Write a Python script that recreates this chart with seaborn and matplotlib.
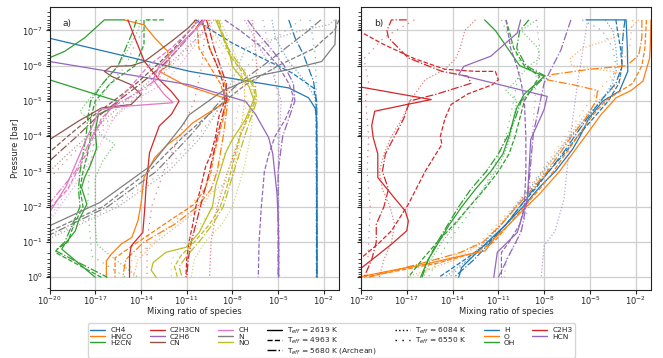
import numpy as np
import matplotlib
matplotlib.use("Agg")
import matplotlib.pyplot as plt
import matplotlib.transforms as mtransforms
from matplotlib.lines import Line2D
from matplotlib.ticker import FixedLocator, NullLocator, NullFormatter
import seaborn as sns

sns.set_theme(style="ticks")
plt.rcParams["font.family"] = ["DejaVu Sans"]
plt.rcParams["font.size"] = 6

# Stellar effective temperatures and the line style used for each one
TEFF_LABELS = ["T$_{eff}$ = 2619 K", "T$_{eff}$ = 4963 K",
               "T$_{eff}$ = 5680 K (Archean)", "T$_{eff}$ = 6084 K",
               "T$_{eff}$ = 6550 K"]
STYLES = ["-", "--", "-.", ":", (0, (1, 4))]
ALPHAS = [1.0, 1.0, 1.0, 0.6, 0.6]

# Profiles: one per Teff (order as TEFF_LABELS); points are
# (log10 pressure [bar], log10 mixing ratio)

# ---- panel a) ----
ch4 = [
    [(-7.3, -25.0), (-6.78, -20.0), (-6.3, -15.3), (-5.84, -10.8), (-5.6, -7.5), (-5.37, -4.3),
     (-5.09, -3.0), (-4.8, -2.57), (-4.5, -2.47), (-3.0, -2.45), (0.0, -2.45)],
    [(-7.3, -10.4), (-7.11, -9.75), (-6.64, -8.0), (-6.17, -5.83), (-5.8, -4.1), (-5.37, -2.68),
     (-5.0, -2.5), (0.0, -2.45)],
    [(-7.3, -4.3), (-6.8, -3.9), (-6.31, -3.33), (-5.56, -2.68), (-4.96, -2.46), (0.0, -2.45)],
    [(-7.3, -5.4), (-6.79, -5.18), (-6.12, -4.31), (-5.56, -3.22), (-5.09, -2.57), (-4.5, -2.5), (0.0, -2.48)],
    [(-7.3, -2.9), (-6.3, -2.56), (-5.5, -2.5), (0.0, -2.5)],
]
hnco = [
    [(-7.3, -15.1), (-7.16, -13.8), (-6.79, -13.1), (-6.41, -12.25), (-6.03, -12.1), (-5.84, -12.8),
     (-5.46, -11.16), (-5.04, -8.2), (-4.38, -10.6), (-4.0, -11.5), (-3.77, -12.25), (-3.39, -13.1),
     (-2.83, -13.8), (-2.07, -14.0), (-1.6, -14.2), (-1.13, -14.6), (-0.94, -15.3), (-0.66, -15.94),
     (-0.47, -16.27), (0.0, -16.27)],
    [(-7.3, -10.5), (-7.0, -10.3), (-6.5, -10.2), (-6.0, -9.5), (-5.5, -8.8), (-5.0, -8.4), (-4.5, -8.6),
     (-4.0, -8.9), (-3.5, -9.2), (-3.0, -9.4), (-2.5, -9.8), (-2.07, -10.5), (-1.7, -11.8), (-1.32, -13.1),
     (-0.94, -14.4), (-0.55, -15.7), (0.0, -15.7)],
    [(-7.3, -10.0), (-7.0, -9.8), (-6.5, -9.5), (-6.0, -9.0), (-5.5, -8.5), (-5.0, -8.3), (-4.0, -8.6),
     (-3.0, -9.0), (-2.5, -9.4), (-2.0, -10.3), (-1.5, -11.8), (-1.0, -13.8), (-0.5, -15.0), (0.0, -15.2)],
    [(-7.3, -9.6), (-7.0, -9.3), (-6.5, -8.5), (-6.0, -7.6), (-5.5, -7.2), (-5.0, -7.2), (-4.0, -7.5),
     (-3.77, -7.56), (-3.5, -7.7), (-2.83, -8.0), (-2.35, -9.5), (-2.0, -10.0), (-1.5, -11.5),
     (-1.0, -13.0), (-0.5, -14.2), (0.0, -14.5)],
    [(-7.3, -9.9), (-7.0, -9.5), (-6.0, -8.2), (-5.0, -7.5), (-4.0, -8.0), (-3.0, -9.0), (-2.0, -10.8),
     (-1.0, -13.2), (-0.5, -14.6), (0.0, -14.8)],
]
h2cn = [
    [(-7.3, -15.1), (-7.3, -16.4), (-6.79, -17.7), (-6.41, -19.0), (-6.17, -20.3), (-5.9, -23.0),
     (-5.7, -23.0), (-5.6, -20.0), (-4.99, -15.5), (-4.8, -15.9), (-4.62, -16.8), (-4.14, -17.0),
     (-3.67, -16.9), (-3.2, -17.3), (-2.83, -17.7), (-2.54, -17.9), (-2.07, -17.55), (-1.6, -18.1),
     (-1.32, -18.3), (-0.94, -19.0), (-0.8, -19.2), (0.0, -17.0)],
    [(-7.3, -12.5), (-7.3, -13.8), (-6.6, -13.8), (-6.0, -14.4), (-5.5, -16.0), (-5.0, -17.0),
     (-4.5, -17.3), (-4.0, -17.3), (-3.5, -17.5), (-3.0, -17.8), (-2.5, -18.0), (-2.0, -17.8),
     (-1.5, -18.4), (-1.0, -18.8), (-0.8, -19.5), (-0.7, -19.6), (0.0, -16.6)],
    [(-7.3, -14.3), (-7.0, -14.5), (-6.5, -15.0), (-6.0, -15.5), (-5.5, -16.5), (-5.0, -17.3),
     (-4.5, -17.5), (-4.0, -17.6), (-3.0, -18.0), (-2.5, -18.1), (-2.0, -18.0), (-1.5, -18.5),
     (-1.0, -19.0), (-0.75, -19.6), (0.0, -16.2)],
    [(-7.3, -14.0), (-7.0, -14.2), (-6.5, -14.8), (-6.0, -15.5), (-5.5, -16.5), (-5.0, -17.5),
     (-4.7, -18.0), (-4.5, -17.5), (-4.0, -16.5), (-3.77, -15.73), (-3.3, -16.5), (-2.83, -17.0),
     (-2.0, -17.0), (-1.5, -17.0), (-0.94, -16.9), (-0.75, -16.4), (0.0, -14.2)],
    [(-7.3, -13.5), (-6.5, -14.5), (-6.0, -15.0), (-5.5, -16.0), (-5.0, -16.8), (-4.5, -17.5),
     (-4.0, -17.0), (-3.0, -17.4), (-2.0, -17.5), (-1.0, -17.3), (-0.6, -17.2), (0.0, -15.0)],
]
c2h3cn = [
    [(-7.3, -14.86), (-6.79, -14.4), (-6.12, -13.77), (-5.65, -12.9), (-5.28, -12.03), (-5.0, -11.5),
     (-4.62, -12.0), (-4.29, -12.8), (-3.53, -13.44), (-2.59, -13.66), (-1.84, -13.77), (-1.27, -13.88),
     (-0.89, -14.64), (-0.6, -14.75), (0.0, -14.75)],
    [(-7.3, -10.0), (-7.0, -9.8), (-6.5, -9.5), (-6.0, -9.0), (-5.5, -8.6), (-5.0, -8.5), (-4.57, -8.88),
     (-4.0, -9.1), (-3.5, -9.4), (-3.15, -9.75), (-2.5, -10.1), (-2.0, -10.4), (-1.5, -10.6),
     (-1.0, -10.85), (-0.5, -11.0), (0.0, -11.05)],
    [(-7.3, -9.7), (-7.0, -9.5), (-6.5, -9.2), (-6.0, -8.8), (-5.5, -8.4), (-5.0, -8.4), (-4.5, -8.7),
     (-4.0, -9.0), (-3.0, -9.5), (-2.0, -10.1), (-1.0, -10.7), (-0.5, -10.9), (0.0, -11.0)],
    [(-7.3, -6.7), (-7.0, -6.6), (-6.5, -6.5), (-6.0, -6.4), (-5.37, -6.48), (-5.0, -6.6), (-4.0, -7.5),
     (-3.0, -8.3), (-2.0, -9.0), (-1.0, -9.4), (0.0, -9.5)],
    [(-7.3, -9.8), (-7.0, -9.8), (-6.0, -10.0), (-5.0, -10.5), (-4.0, -11.5), (-3.0, -12.5),
     (-2.0, -13.3), (-1.0, -13.6), (0.0, -13.6)],
]
c2h6 = [
    [(-7.3, -36.0), (-6.12, -20.0), (-5.46, -10.83), (-4.99, -7.14), (-4.62, -6.48), (-3.96, -5.62),
     (-3.5, -5.35), (-2.35, -5.07), (-1.5, -4.98), (-0.94, -4.96), (0.0, -4.96)],
    [(-7.3, -8.5), (-7.0, -7.5), (-6.5, -6.0), (-6.0, -5.0), (-5.5, -4.3), (-5.13, -4.0), (-4.8, -4.2),
     (-4.5, -4.5), (-4.0, -5.2), (-3.5, -5.6), (-3.0, -5.9), (-2.0, -6.1), (-1.0, -6.25), (0.0, -6.3)],
    [(-7.3, -7.0), (-7.0, -6.5), (-6.5, -5.5), (-6.0, -4.6), (-5.5, -4.0), (-5.0, -3.9), (-4.5, -4.3),
     (-4.0, -4.7), (-3.0, -5.0), (-2.0, -5.0), (0.0, -5.0)],
    [(-7.3, -7.2), (-7.0, -6.8), (-6.5, -6.2), (-6.0, -5.5), (-5.0, -4.8), (-4.0, -4.9), (-3.0, -5.0),
     (0.0, -5.0)],
    [(-7.3, -6.0), (-6.5, -5.6), (-6.0, -5.3), (-5.0, -5.0), (-4.0, -5.0), (0.0, -4.9)],
]
cn = [
    [(-7.3, -10.4), (-7.07, -10.9), (-6.69, -12.0), (-6.12, -13.77), (-6.0, -14.64), (-5.98, -15.94),
     (-5.84, -16.4), (-5.7, -15.94), (-5.46, -14.64), (-5.18, -14.0), (-4.9, -14.64), (-4.8, -16.6),
     (-4.43, -18.1), (-3.82, -20.3), (-3.3, -22.0)],
    [(-7.3, -10.2), (-7.0, -10.8), (-6.5, -11.8), (-6.0, -13.0), (-5.5, -14.3), (-5.0, -15.8),
     (-4.5, -17.4), (-4.0, -18.8), (-3.55, -20.0), (-3.0, -21.5)],
    [(-7.3, -10.0), (-7.0, -10.5), (-6.5, -11.5), (-6.0, -12.6), (-5.5, -14.0), (-5.0, -15.5),
     (-4.5, -17.0), (-4.0, -18.2), (-3.3, -20.0), (-2.8, -21.5)],
    [(-7.3, -9.2), (-7.0, -9.8), (-6.5, -11.0), (-6.0, -12.3), (-5.5, -13.6), (-5.0, -15.0),
     (-4.5, -16.3), (-4.0, -17.5), (-3.5, -18.8), (-3.0, -20.0), (-2.5, -21.5)],
    [(-7.3, -9.5), (-6.5, -10.8), (-5.5, -13.2), (-4.5, -16.0), (-3.5, -18.5), (-2.8, -20.0),
     (-2.3, -21.5)],
]
ch = [
    [(-7.3, -9.8), (-7.0, -10.5), (-6.5, -11.7), (-6.0, -12.8), (-5.6, -13.2), (-5.2, -12.5),
     (-4.95, -11.9), (-4.9, -13.5), (-4.85, -15.0), (-4.76, -16.7), (-3.91, -17.6), (-2.59, -18.9),
     (-1.84, -20.0), (-1.3, -21.5)],
    [(-7.3, -10.2), (-7.0, -10.8), (-6.5, -12.0), (-6.0, -13.5), (-5.5, -14.5), (-5.0, -15.5),
     (-4.5, -16.6), (-3.5, -17.6), (-2.5, -18.8), (-1.95, -20.0), (-1.5, -21.0)],
    [(-7.3, -9.9), (-7.0, -10.5), (-6.5, -11.5), (-6.0, -12.5), (-5.6, -13.0), (-5.3, -14.0),
     (-4.8, -16.0), (-4.0, -17.2), (-3.0, -18.3), (-2.1, -20.0), (-1.6, -21.0)],
    [(-7.3, -9.4), (-7.0, -9.8), (-6.5, -10.6), (-6.0, -11.5), (-5.5, -12.5), (-5.0, -14.5),
     (-4.5, -15.8), (-3.5, -17.0), (-2.5, -18.5), (-1.6, -20.0), (-1.2, -21.0)],
    [(-7.3, -9.8), (-7.0, -10.2), (-6.0, -12.0), (-5.0, -14.8), (-4.0, -16.8), (-3.0, -18.0),
     (-1.7, -20.0), (-1.3, -21.0)],
]
n_atom = [
    [(-7.3, -1.2), (-6.6, -1.27), (-6.12, -2.14), (-5.89, -4.31), (-5.7, -6.48), (-5.28, -8.66),
     (-4.61, -10.83), (-4.3, -11.3), (-3.15, -13.4), (-2.12, -16.7), (-1.46, -20.0), (-1.0, -22.5)],
    [(-7.3, -1.0), (-7.0, -1.3), (-6.69, -2.14), (-6.5, -2.6), (-6.0, -5.0), (-5.46, -7.14),
     (-5.0, -8.5), (-4.0, -11.2), (-3.0, -13.5), (-2.0, -16.5), (-1.3, -20.0), (-0.9, -22.5)],
    [(-7.3, -2.2), (-7.0, -3.0), (-6.5, -4.5), (-6.0, -6.0), (-5.5, -7.6), (-5.0, -8.8),
     (-4.0, -10.8), (-3.0, -13.0), (-2.0, -16.2), (-1.2, -20.0), (-0.8, -22.5)],
    [(-7.3, -1.3), (-7.16, -1.7), (-7.0, -3.5), (-6.5, -7.14), (-6.0, -7.6), (-5.0, -8.6),
     (-4.0, -10.0), (-3.0, -12.2), (-2.0, -15.5), (-1.1, -20.0), (-0.7, -22.5)],
    [(-7.3, -3.5), (-7.0, -4.5), (-6.5, -6.0), (-6.0, -7.0), (-5.0, -8.5), (-4.0, -10.3),
     (-3.0, -12.5), (-2.0, -15.8), (-1.15, -20.0), (-0.75, -22.5)],
]
no = [
    [(-7.3, -9.1), (-6.45, -8.23), (-5.98, -8.0), (-5.75, -7.57), (-5.42, -6.92), (-5.04, -6.6),
     (-4.48, -7.14), (-3.91, -8.0), (-3.53, -8.44), (-2.59, -9.1), (-2.02, -9.3), (-1.27, -10.18),
     (-0.85, -11.05), (-0.71, -12.36), (-0.42, -13.2), (-0.2, -13.33), (0.0, -13.0)],
    [(-7.3, -9.0), (-7.0, -8.8), (-6.3, -8.2), (-5.8, -7.3), (-5.4, -6.6), (-5.0, -6.5), (-4.5, -7.0),
     (-4.0, -7.5), (-3.5, -7.8), (-3.0, -8.1), (-2.5, -8.4), (-2.0, -8.8), (-1.5, -9.5), (-1.0, -10.5),
     (-0.6, -11.4), (-0.3, -11.8), (0.0, -11.6)],
    [(-7.3, -8.9), (-7.0, -8.7), (-6.5, -8.3), (-6.0, -7.5), (-5.4, -6.5), (-5.0, -6.4), (-4.5, -6.8),
     (-4.0, -7.2), (-3.0, -7.9), (-2.0, -8.6), (-1.5, -9.3), (-1.0, -10.2), (-0.6, -11.0),
     (-0.3, -11.5), (0.0, -11.3)],
    [(-7.3, -8.8), (-7.0, -8.5), (-6.0, -7.5), (-5.5, -6.8), (-5.0, -6.6), (-4.0, -6.8), (-3.0, -7.3),
     (-2.0, -8.0), (-1.5, -8.7), (-1.0, -9.8), (-0.5, -10.5), (0.0, -10.7)],
    [(-7.3, -9.0), (-7.0, -8.7), (-6.0, -7.7), (-5.0, -7.0), (-4.0, -7.6), (-3.0, -8.3), (-2.0, -9.2),
     (-1.0, -11.0), (-0.5, -12.0), (0.0, -12.0)],
]

# ---- panel b) ----
h_atom = [
    [(-7.3, -5.26), (-7.3, -2.63), (-6.5, -2.55), (-5.84, -2.52), (-5.28, -3.07), (-4.99, -4.17),
     (-4.52, -5.05), (-3.96, -5.7), (-3.63, -6.14), (-3.02, -7.24), (-2.54, -8.33), (-1.98, -9.43),
     (-1.5, -10.5), (-1.03, -11.64), (-0.75, -12.3), (-0.28, -13.4), (0.0, -13.6)],
    [(-7.3, -3.3), (-7.0, -3.2), (-6.5, -3.0), (-6.0, -2.9), (-5.5, -3.1), (-5.0, -3.8), (-4.5, -4.8),
     (-4.0, -5.8), (-3.5, -6.7), (-3.0, -7.7), (-2.5, -8.6), (-2.0, -9.6), (-1.5, -10.5), (-1.0, -11.6),
     (-0.5, -13.2), (0.0, -14.9)],
    [(-7.3, -2.7), (-7.0, -2.8), (-6.5, -2.9), (-6.0, -2.9), (-5.5, -3.3), (-5.0, -4.3), (-4.5, -5.2),
     (-4.0, -6.0), (-3.5, -6.8), (-3.0, -7.7), (-2.5, -8.7), (-2.0, -9.6), (-1.5, -10.5), (-1.0, -11.5),
     (-0.5, -12.6), (0.0, -13.9)],
    [(-7.3, -4.0), (-7.0, -3.5), (-6.5, -3.3), (-6.0, -3.2), (-5.5, -3.5), (-5.0, -4.3), (-4.5, -5.3),
     (-4.0, -6.3), (-3.5, -7.2), (-3.0, -8.1), (-2.5, -9.0), (-2.0, -9.9), (-1.5, -10.8), (-1.0, -11.9),
     (-0.5, -13.0), (0.0, -14.5)],
    [(-7.3, -5.5), (-7.0, -4.2), (-6.5, -3.5), (-6.0, -3.3), (-5.0, -3.9), (-4.0, -6.2), (-3.0, -7.9),
     (-2.0, -9.8), (-1.0, -11.8), (0.0, -14.2)],
]
o_atom = [
    [(-7.3, -1.0), (-6.5, -1.05), (-6.2, -1.1), (-5.56, -1.53), (-5.3, -2.3), (-5.09, -3.29),
     (-4.6, -4.3), (-4.0, -5.3), (-3.77, -5.7), (-3.0, -7.0), (-2.35, -8.33), (-1.9, -9.4),
     (-1.41, -10.5), (-1.13, -11.2), (-0.75, -11.86), (-0.6, -13.5), (-0.37, -15.8), (-0.15, -18.5),
     (0.0, -20.2)],
    [(-7.3, -1.3), (-6.5, -1.4), (-6.0, -1.6), (-5.5, -2.2), (-5.2, -3.3), (-5.0, -4.0), (-4.5, -5.0),
     (-4.0, -5.8), (-3.5, -6.6), (-3.0, -7.4), (-2.5, -8.3), (-2.0, -9.3), (-1.5, -10.3), (-1.0, -11.3),
     (-0.7, -12.5), (-0.4, -15.0), (-0.15, -18.0), (0.0, -19.8)],
    [(-7.3, -1.6), (-6.8, -1.6), (-6.3, -1.8), (-6.0, -2.6), (-5.9, -5.0), (-5.75, -7.5), (-5.6, -7.8),
     (-5.45, -6.0), (-5.3, -4.5), (-5.0, -4.6), (-4.5, -5.3), (-4.0, -6.2), (-3.5, -7.0), (-3.0, -7.8),
     (-2.5, -8.8), (-2.0, -9.8), (-1.5, -10.8), (-1.0, -12.0), (-0.7, -13.5), (-0.4, -16.0),
     (0.0, -19.5)],
    [(-7.3, -1.8), (-7.0, -2.5), (-6.7, -4.0), (-6.5, -5.5), (-6.2, -6.3), (-6.0, -6.2), (-5.9, -4.5),
     (-5.8, -3.0), (-5.6, -3.0), (-5.3, -3.6), (-5.0, -4.5), (-4.5, -5.5), (-4.0, -6.4), (-3.5, -7.2),
     (-3.0, -8.0), (-2.5, -8.9), (-2.0, -9.9), (-1.5, -10.9), (-1.0, -12.0), (-0.5, -13.8),
     (0.0, -17.0)],
    [(-7.3, -2.2), (-6.5, -2.4), (-6.0, -3.0), (-5.5, -4.0), (-5.0, -5.0), (-4.0, -6.6), (-3.0, -8.2),
     (-2.0, -10.0), (-1.0, -12.2), (0.0, -16.5)],
]
oh = [
    [(-7.3, -11.9), (-7.0, -11.2), (-6.5, -10.4), (-6.0, -9.6), (-5.7, -8.0), (-5.5, -8.5), (-5.2, -9.3),
     (-4.8, -9.8), (-4.5, -10.0), (-4.0, -10.3), (-3.5, -10.7), (-3.0, -11.5), (-2.5, -12.5),
     (-2.0, -13.4), (-1.5, -14.2), (-1.0, -14.9), (-0.5, -15.6), (0.0, -16.1)],
    [(-7.3, -10.5), (-7.0, -10.3), (-6.5, -10.0), (-6.0, -9.3), (-5.7, -8.3), (-5.5, -8.6), (-5.0, -9.3),
     (-4.5, -9.6), (-4.0, -9.9), (-3.5, -10.3), (-3.0, -11.0), (-2.5, -11.9), (-2.0, -12.9),
     (-1.5, -13.9), (-1.0, -15.0), (-0.5, -16.0), (0.0, -16.9)],
    [(-7.3, -9.0), (-7.0, -9.6), (-6.5, -9.8), (-6.0, -9.2), (-5.7, -7.9), (-5.5, -8.4), (-5.0, -9.5),
     (-4.5, -9.9), (-4.0, -10.4), (-3.5, -11.0), (-3.0, -11.8), (-2.5, -12.8), (-2.0, -13.6),
     (-1.5, -14.3), (-1.0, -15.0), (-0.5, -15.6), (0.0, -16.0)],
    [(-7.3, -8.5), (-7.0, -9.5), (-6.5, -8.4), (-6.2, -8.3), (-6.0, -9.0), (-5.5, -10.0), (-5.3, -10.5),
     (-5.0, -9.8), (-4.5, -10.0), (-4.0, -10.2), (-3.5, -10.6), (-3.0, -11.2), (-2.5, -12.0),
     (-2.0, -12.9), (-1.5, -13.8), (-1.0, -14.7), (-0.5, -15.4), (0.0, -15.9)],
    [(-7.3, -10.8), (-6.5, -10.0), (-6.0, -9.5), (-5.5, -9.8), (-5.0, -10.0), (-4.0, -10.5),
     (-3.0, -11.4), (-2.0, -12.6), (-1.0, -14.3), (0.0, -15.6)],
]
c2h3 = [
    [(-5.6, -22.0), (-5.41, -20.2), (-5.04, -15.4), (-4.9, -17.0), (-4.71, -19.1), (-4.3, -19.3),
     (-3.96, -19.2), (-3.5, -18.9), (-2.83, -18.9), (-2.35, -18.0), (-1.88, -17.1), (-1.6, -16.9),
     (-1.32, -17.0), (-0.94, -18.0), (-0.56, -19.1), (-0.19, -20.2), (0.0, -20.8)],
    [(-7.0, -20.2), (-6.6, -18.5), (-6.2, -16.5), (-5.9, -14.5), (-5.84, -12.5), (-5.84, -11.2),
     (-5.6, -11.0), (-5.46, -11.4), (-5.2, -13.0), (-4.9, -14.1), (-4.5, -14.5), (-4.0, -14.8),
     (-3.77, -14.7), (-3.0, -15.8), (-2.07, -16.9), (-1.32, -18.0), (-0.94, -18.9), (-0.47, -20.2)],
    [(-7.3, -17.0), (-7.3, -18.0), (-7.0, -18.3), (-6.79, -18.2), (-6.22, -16.9), (-5.84, -14.7),
     (-5.7, -13.0), (-5.5, -12.8), (-5.2, -15.0), (-5.0, -16.8), (-4.5, -17.2), (-4.0, -17.8),
     (-3.5, -18.4), (-3.0, -18.6), (-2.5, -18.2), (-2.0, -18.5), (-1.5, -19.0), (-1.0, -19.0),
     (-0.5, -19.3), (0.0, -19.8)],
    [(-7.3, -12.5), (-7.0, -13.2), (-6.5, -13.5), (-6.2, -13.8), (-5.9, -14.5), (-5.6, -15.8),
     (-5.3, -16.3), (-5.0, -16.8), (-4.5, -17.3), (-4.0, -18.0), (-3.5, -18.5), (-3.0, -18.8),
     (-2.5, -18.6), (-2.0, -18.1), (-1.5, -17.8), (-1.0, -18.0), (-0.5, -18.5), (0.0, -18.8)],
    [(-7.3, -16.5), (-6.8, -18.5), (-6.2, -19.8), (-5.5, -19.5), (-5.0, -19.7), (-4.0, -19.5),
     (-3.0, -19.6), (-2.0, -19.4), (-1.0, -19.5), (0.0, -19.6)],
]
hcn = [
    [(-7.3, -9.54), (-6.93, -9.76), (-6.27, -11.5), (-5.98, -13.27), (-5.75, -13.6), (-5.6, -12.2),
     (-5.13, -7.8), (-4.76, -8.0), (-3.91, -8.88), (-2.21, -9.1), (-1.27, -9.76), (-0.71, -11.07),
     (0.0, -11.3)],
    [(-7.3, -10.5), (-6.5, -10.2), (-6.0, -9.8), (-5.5, -9.5), (-5.0, -9.3), (-4.0, -9.2), (-3.0, -9.2),
     (-2.0, -9.3), (-1.5, -9.6), (-1.0, -10.3), (-0.7, -10.8), (0.0, -10.8)],
    [(-7.3, -6.25), (-6.45, -6.9), (-5.51, -8.0), (-4.1, -8.7), (-2.2, -9.1), (-1.3, -9.5),
     (-0.71, -10.2), (0.0, -11.0)],
    [(-7.3, -5.15), (-5.51, -5.81), (-4.1, -6.25), (-2.21, -6.7), (-1.3, -7.3), (-0.9, -8.0),
     (0.0, -8.2)],
    [(-7.3, -8.5), (-6.5, -8.3), (-6.0, -8.5), (-5.0, -8.6), (-4.0, -8.8), (-3.0, -8.9), (-2.0, -9.0),
     (-1.0, -9.8), (-0.5, -10.5), (0.0, -10.6)],
]

pal = sns.color_palette("tab10")
SPECIES_A = [("CH4", ch4, pal[0]), ("HNCO", hnco, pal[1]), ("H2CN", h2cn, pal[2]),
             ("C2H3CN", c2h3cn, pal[3]), ("C2H6", c2h6, pal[4]), ("CN", cn, pal[5]),
             ("CH", ch, pal[6]), ("N", n_atom, pal[7]), ("NO", no, pal[8])]
SPECIES_B = [("H", h_atom, pal[0]), ("O", o_atom, pal[1]), ("OH", oh, pal[2]),
             ("C2H3", c2h3, pal[3]), ("HCN", hcn, pal[4])]


def draw_species(ax, profiles, color):
    for prof, ls, alpha in zip(profiles, STYLES, ALPHAS):
        lp, lx = np.array(prof, dtype=float).T
        sns.lineplot(x=10.0 ** lx, y=10.0 ** lp, ax=ax, color=color, linestyle=ls,
                     alpha=alpha, lw=0.9, sort=False, estimator=None)


fig = plt.figure(figsize=(6.63, 3.58), dpi=100)
ax_a = fig.add_axes([0.0747, 0.191, 0.4367, 0.7894])
ax_b = fig.add_axes([0.5445, 0.191, 0.4374, 0.7894])

for ax, group, tag in [(ax_a, SPECIES_A, "a)"), (ax_b, SPECIES_B, "b)")]:
    for _, profiles, color in group:
        draw_species(ax, profiles, color)
    ax.set_xscale("log")
    ax.set_yscale("log")
    ax.set_xlim(1e-20, 1e-1)
    ax.set_ylim(10 ** 0.35, 10 ** -7.665)
    ax.set_xticks([1e-20, 1e-17, 1e-14, 1e-11, 1e-8, 1e-5, 1e-2])
    ax.xaxis.set_minor_locator(NullLocator())
    ax.set_yticks([10.0 ** k for k in range(-7, 1)])
    ax.yaxis.set_minor_locator(FixedLocator(
        [m * 10.0 ** k for k in range(-8, 1) for m in range(2, 10)
         if 10 ** -7.665 < m * 10.0 ** k < 10 ** 0.35]))
    ax.yaxis.set_minor_formatter(NullFormatter())
    ax.grid(True, which="major", color="#cfcfcf", lw=0.9)
    ax.set_axisbelow(True)
    ax.tick_params(labelsize=6, length=3, width=0.8, direction="out", pad=1.5)
    ax.tick_params(axis="x", pad=0.5)
    ax.tick_params(which="minor", length=2, width=0.6)
    for sp in ax.spines.values():
        sp.set_linewidth(0.8)
        sp.set_color("#222222")
    ax.set_xlabel("Mixing ratio of species", fontsize=6)
    # x in axes units, y in figure units: keep the label just under the tick labels
    ax.xaxis.set_label_coords(0.5, 1 - 306.5 / 358,
                              transform=mtransforms.blended_transform_factory(ax.transAxes, fig.transFigure))
    ax.set_ylabel("")
    ax.text(0.045, 0.94, tag, transform=ax.transAxes, fontsize=6.5, va="center", ha="left")

ax_a.set_ylabel("Pressure [bar]", fontsize=6, labelpad=2)
ax_b.tick_params(labelleft=False)
for ax in (ax_a, ax_b):
    leg = ax.get_legend()
    if leg is not None:
        leg.remove()


# Legend: species colours, Teff line styles; blanks keep the column layout
def sp_handle(name, color):
    return Line2D([], [], color=color, lw=1.0, label=name)


blank = Line2D([], [], color="none", label=" ")
sp = {name: color for name, _, color in SPECIES_A + SPECIES_B}
teff_handles = [Line2D([], [], color="black", lw=1.0, linestyle=ls, label=lab)
                for ls, lab in zip(STYLES, TEFF_LABELS)]
handles = [sp_handle(n, sp[n]) for n in ["CH4", "HNCO", "H2CN", "C2H3CN", "C2H6", "CN", "CH", "N", "NO"]]
handles += teff_handles + [blank]
handles += [sp_handle(n, sp[n]) for n in ["H", "O", "OH", "C2H3", "HCN"]] + [blank]

fig.legend(handles=handles, loc="lower center", bbox_to_anchor=(0.5, 0.0), ncol=7,
           fontsize=5.4, frameon=True, handlelength=2.0, columnspacing=2.3,
           labelspacing=0.0, borderpad=0.25, handletextpad=0.7, borderaxespad=0.05)

fig.savefig("out.png", dpi=100)
